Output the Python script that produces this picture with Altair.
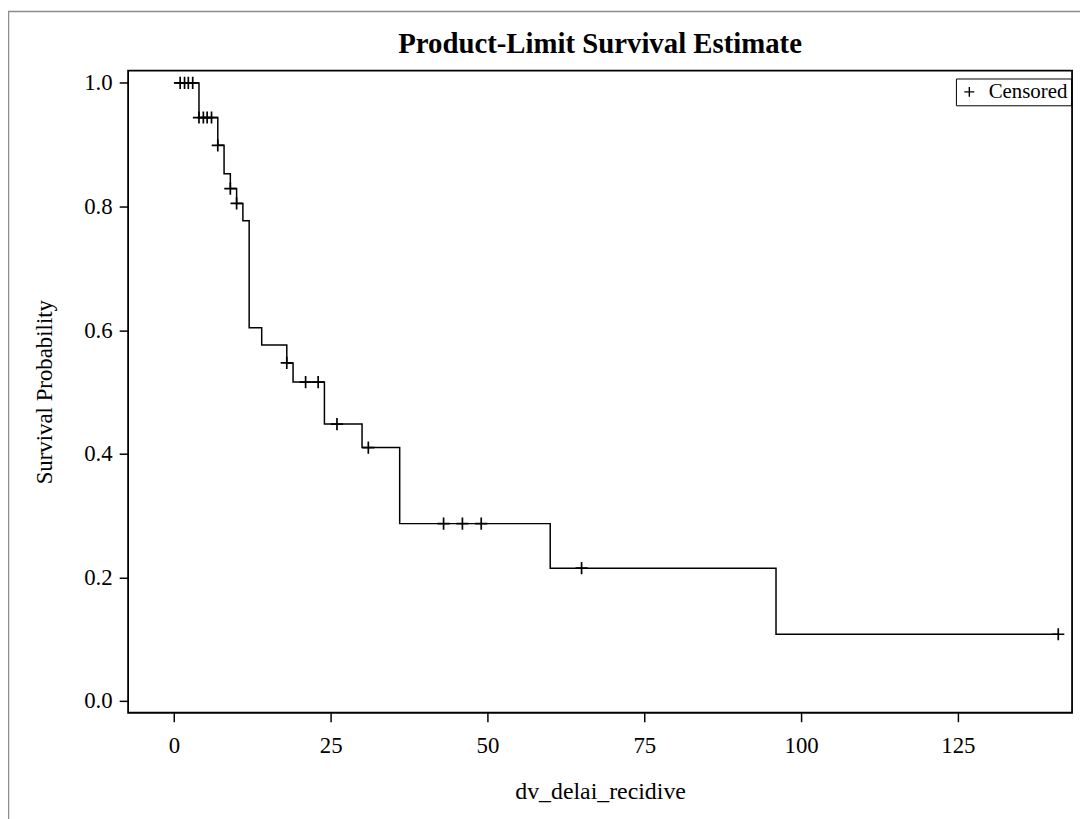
import altair as alt
import pandas as pd

TITLE = "Product-Limit Survival Estimate"

# Step curve (Kaplan-Meier) : drop times and survival levels
step_time = [0, 4, 7, 8, 9, 10, 11, 12, 14, 18, 19, 24, 30, 36, 60, 96, 141]
step_surv = [1.0, 0.944, 0.899, 0.853, 0.829, 0.805, 0.777, 0.604, 0.576,
             0.547, 0.516, 0.448, 0.410, 0.287, 0.215, 0.108, 0.108]

# Censored observations
cens_time = [1, 1.7, 2.3, 3, 4, 4.7, 5.3, 6, 7, 9, 10, 18, 21, 23, 26, 31,
             43, 46, 49, 65, 141]
cens_surv = [1.0, 1.0, 1.0, 1.0, 0.944, 0.944, 0.944, 0.944, 0.899, 0.829,
             0.805, 0.547, 0.516, 0.516, 0.448, 0.410, 0.287, 0.287, 0.287,
             0.215, 0.108]

x_ticks = [0, 25, 50, 75, 100, 125]
y_ticks = [0.0, 0.2, 0.4, 0.6, 0.8, 1.0]

step_df = pd.DataFrame({"t": step_time, "s": step_surv})
cens_df = pd.DataFrame({"t": cens_time, "s": cens_surv,
                        "lbl": ["Censored"] * len(cens_time)})

FONT = "Liberation Serif"
W, H = 951, 647

xscale = alt.Scale(domain=[-7.3, 143.2], nice=False, zero=False)
yscale = alt.Scale(domain=[-0.019, 1.02], nice=False, zero=False)

xaxis = alt.Axis(values=x_ticks, title="dv_delai_recidive", grid=False,
                 domain=False, tickSize=9, tickWidth=1.5, tickColor="black",
                 labelFont=FONT, labelFontSize=23, labelColor="black",
                 labelPadding=13, titleFont=FONT, titleFontSize=24,
                 titleFontWeight="normal", titleColor="black", titlePadding=22)
yaxis = alt.Axis(values=y_ticks, format=".1f", title="Survival Probability",
                 grid=False, domain=False, tickSize=9, tickWidth=1.5,
                 tickColor="black", labelFont=FONT, labelFontSize=23,
                 labelColor="black", labelPadding=7, titleFont=FONT,
                 titleFontSize=23, titleFontWeight="normal",
                 titleColor="black", titlePadding=27)

line = alt.Chart(step_df).mark_line(
    interpolate="step-after", color="black", strokeWidth=1.5
).encode(
    x=alt.X("t:Q", scale=xscale, axis=xaxis),
    y=alt.Y("s:Q", scale=yscale, axis=yaxis),
)

cross_path = "M-1,0H1M0,-1V1"
cens = alt.Chart(cens_df).mark_point(
    filled=False, color="black", size=150, strokeWidth=1.7, opacity=1
).encode(
    x=alt.X("t:Q", scale=xscale),
    y=alt.Y("s:Q", scale=yscale),
    shape=alt.Shape("lbl:N", scale=alt.Scale(range=[cross_path]),
                    legend=alt.Legend(title=None, orient="none",
                                      legendX=834, legendY=8,
                                      strokeColor="black", padding=3,
                                      labelFont=FONT, labelFontSize=21,
                                      labelColor="black", symbolSize=100,
                                      symbolStrokeColor="black",
                                      symbolStrokeWidth=1.4,
                                      symbolFillColor="transparent",
                                      labelOffset=9)),
)

title = alt.Chart(pd.DataFrame({"a": [0]})).mark_text(
    text=TITLE, font=FONT, fontSize=29, fontWeight="bold", color="black",
    align="center", baseline="middle", clip=False
).encode(x=alt.value(W / 2), y=alt.value(-27))

# outer gray frame of the output page
frame_top = alt.Chart(pd.DataFrame({"a": [0]})).mark_rule(
    color="#8c8c8c", strokeWidth=1.5, clip=False
).encode(x=alt.value(-121), x2=alt.value(W + 10), y=alt.value(-59.5))
frame_left = alt.Chart(pd.DataFrame({"a": [0]})).mark_rule(
    color="#8c8c8c", strokeWidth=1.5, clip=False
).encode(x=alt.value(-120.5), y=alt.value(-60), y2=alt.value(H + 110))

chart = alt.layer(line, cens, title, frame_top, frame_left).properties(
    width=W, height=H,
    autosize=alt.AutoSizeParams(type="none"),
    padding={"left": 121, "top": 60, "right": 8, "bottom": 104},
).configure_view(stroke="black", strokeWidth=1.8)

chart.save("out.html", embed_options={"renderer": "svg", "actions": False})
